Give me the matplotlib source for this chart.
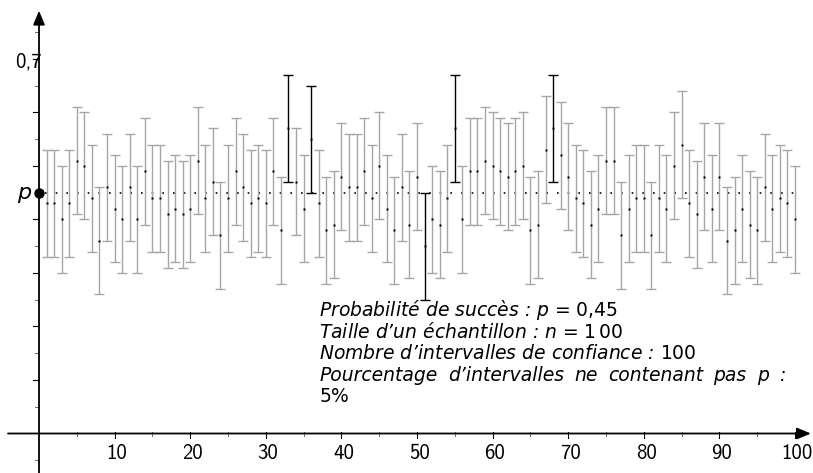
import numpy as np
import matplotlib
matplotlib.use("Agg")
import matplotlib.pyplot as plt

# simulation parameters
p = 0.45
n = 100

# observed frequency for each of the 100 samples
freqs = [0.43, 0.43, 0.40, 0.43, 0.51, 0.50, 0.44, 0.36, 0.46, 0.42,
         0.40, 0.46, 0.40, 0.49, 0.44, 0.44, 0.41, 0.42, 0.41, 0.42,
         0.51, 0.44, 0.47, 0.37, 0.44, 0.49, 0.46, 0.43, 0.44, 0.43,
         0.49, 0.38, 0.57, 0.47, 0.42, 0.55, 0.43, 0.38, 0.39, 0.48,
         0.46, 0.46, 0.49, 0.44, 0.50, 0.42, 0.38, 0.46, 0.39, 0.48,
         0.35, 0.40, 0.39, 0.44, 0.57, 0.40, 0.49, 0.49, 0.51, 0.50,
         0.49, 0.48, 0.49, 0.50, 0.38, 0.39, 0.53, 0.57, 0.52, 0.48,
         0.44, 0.43, 0.39, 0.42, 0.51, 0.51, 0.37, 0.42, 0.44, 0.44,
         0.37, 0.44, 0.42, 0.50, 0.54, 0.43, 0.41, 0.48, 0.42, 0.48,
         0.36, 0.38, 0.42, 0.39, 0.38, 0.46, 0.42, 0.44, 0.43, 0.40]

x_major = list(range(10, 101, 10))
x_minor = list(range(5, 100, 10))
y_major = [0.1, 0.2, 0.3, 0.4, 0.5, 0.6, 0.7]
y_minor = [-0.05, 0.05, 0.15, 0.25, 0.35, 0.55, 0.65, 0.75]

info_lines = ["Probabilité de succès : $p$ = $0{,}45$",
              "Taille d’un échantillon : $n$ = $1\\,00$",
              "Nombre d’intervalles de confiance : $100$"]
info_justified = ["Pourcentage", "d’intervalles", "ne", "contenant", "pas", "p", ":"]
info_last = "$5\\%$"

plt.rcParams["mathtext.fontset"] = "custom"
plt.rcParams["mathtext.rm"] = "DejaVu Sans"
plt.rcParams["mathtext.it"] = "DejaVu Sans:italic"

GRAY = "#a6a6a6"

fig = plt.figure(figsize=(8.13, 4.73), dpi=100)
ax = fig.add_axes([0, 0, 1, 1])
ax.set_xlim(-5.16, 102.38)
ax.set_ylim(-0.0738, 0.810)
ax.axis("off")

idx = np.arange(1, len(freqs) + 1)
f = np.array(freqs)
h = 1 / np.sqrt(n)
outside = (f - h > p) | (f + h < p)

# confidence intervals
ax.errorbar(idx[~outside], f[~outside], yerr=h, fmt="none", ecolor=GRAY,
            elinewidth=1.0, capsize=3.9, capthick=1.0, zorder=2)
ax.errorbar(idx[outside], f[outside], yerr=h, fmt="none", ecolor="black",
            elinewidth=1.0, capsize=3.9, capthick=1.0, zorder=3)
ax.plot(idx, f, "s", color="black", ms=2.1, mec="none", zorder=4)

# dotted line at p
ax.plot([0.8, 100], [p, p], color="black", lw=1.2, linestyle=(0, (1, 5.4)), zorder=1)
ax.plot([0], [p], "o", color="black", ms=6.5, zorder=6, clip_on=False)
ax.text(-2.0, p, "p", ha="center", va="center", fontsize=16,
        family="DejaVu Sans", style="italic")

# axes with arrows
arrow = dict(arrowstyle="-|>,head_length=0.6,head_width=0.25", color="black",
             lw=1.3, shrinkA=0, shrinkB=0, mutation_scale=14)
ax.annotate("", xy=(102.1, 0), xytext=(-4.1, 0), arrowprops=arrow, zorder=5)
ax.annotate("", xy=(0, 0.79), xytext=(0, -0.0738), arrowprops=arrow, zorder=5)

for t in x_major:
    ax.plot([t, t], [-0.009, 0.003], color="black", lw=0.8)
    ax.text(t + 0.3, -0.037, str(t), ha="center", va="center",
            family="cmss10", fontsize=15)
for t in x_minor:
    ax.plot([t, t], [-0.005, 0.003], color="black", lw=0.6, alpha=0.7)
for t in y_major:
    ax.plot([-0.75, 0], [t, t], color="black", lw=0.8)
for t in y_minor:
    ax.plot([-0.5, 0], [t, t], color="black", lw=0.6, alpha=0.7)
ax.text(0.3, 0.694, "0,7", ha="right", va="center", family="cmss10", fontsize=15)

# information block
x_left = 37.1
x_right = 98.7
y0 = 0.2196
dy = 0.0404
txt = dict(family="DejaVu Sans", style="italic", fontsize=13.5, va="baseline",
           ha="left", zorder=7)
for k, line in enumerate(info_lines):
    ax.text(x_left, y0 - k * dy, line, **txt)

y4 = y0 - 3 * dy
arts = [ax.text(x_left, y4, w, **txt) for w in info_justified]
renderer = fig.canvas.get_renderer()
inv = ax.transData.inverted()
widths = []
for a in arts:
    bb = a.get_window_extent(renderer)
    widths.append(inv.transform((bb.x1, 0))[0] - inv.transform((bb.x0, 0))[0])
gap = (x_right - x_left - sum(widths)) / (len(arts) - 1)
xpos = x_left
for a, w in zip(arts, widths):
    a.set_x(xpos)
    xpos += w + gap

ax.text(x_left, y0 - 4 * dy, info_last, **txt)

fig.savefig("out.png", dpi=100)
